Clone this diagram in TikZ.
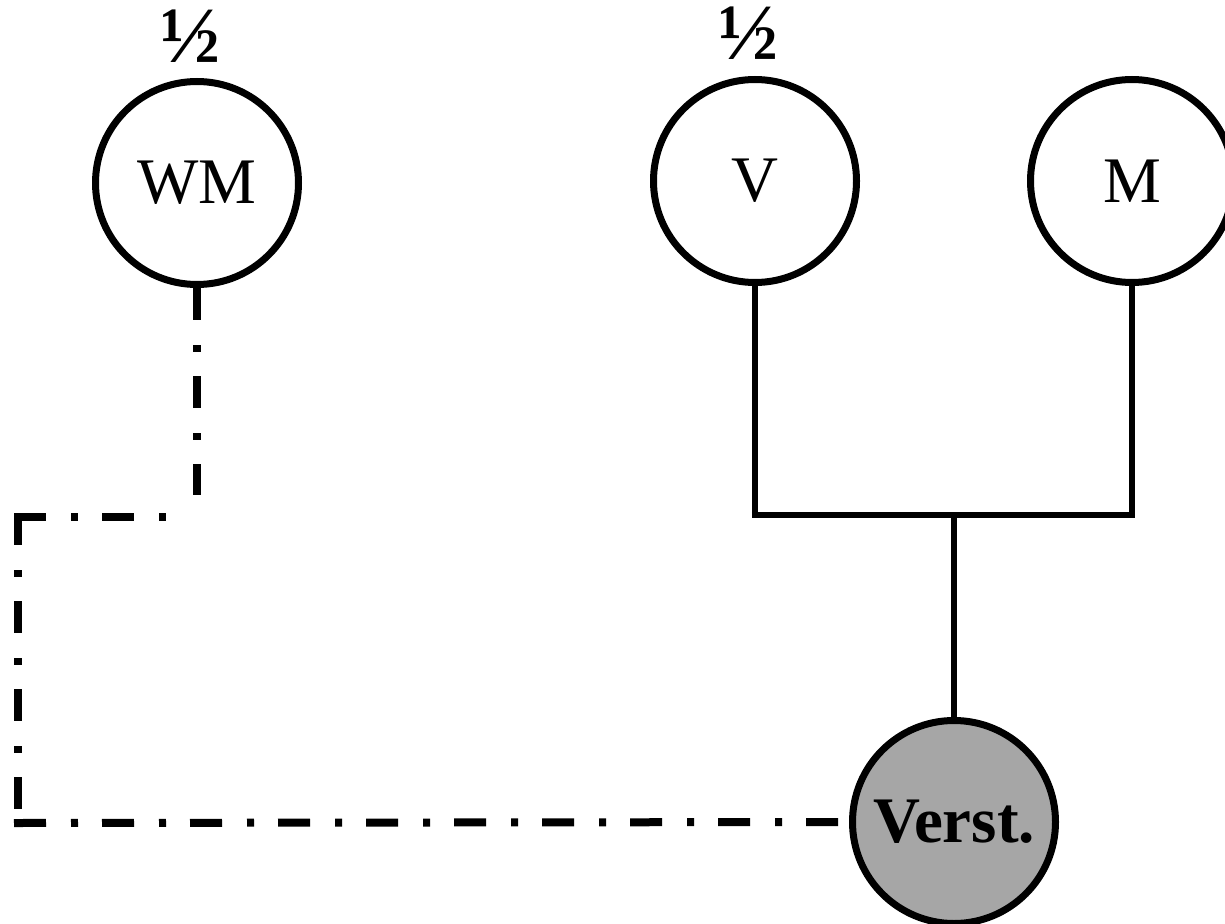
\documentclass[tikz,border=0pt]{standalone}
\usepackage{fontspec}
\setmainfont{Liberation Serif}
\definecolor{verstgray}{RGB}{166,166,166}
\begin{document}
\begin{tikzpicture}[x=1pt,y=-1pt,
  person/.style={circle,draw=black,line width=7pt,minimum size=203pt,inner sep=0pt,fill=white,font=\fontsize{65}{65}\selectfont},
  proband/.style={person,fill=verstgray,font=\fontsize{65}{65}\selectfont\bfseries},
  frac/.style={font=\fontsize{80}{80}\selectfont\bfseries,inner sep=0pt},
  kin/.style={line width=6.5pt},
  foster/.style={line width=8pt,dash pattern=on 32pt off 25pt on 7pt off 24pt}
]
\useasboundingbox (0,0) rectangle (1225,923);
\node[person] (WM) at (197,183) {WM};
\node[person] (V) at (755,181) {V};
\node[person] (M) at (1132,181) {M};
\node[proband] (P) at (954,822) {Verst.};
\node[frac] (fWM) at (190,36) {½};
\node[frac] (fV) at (748,33) {½};
% parent connections
\coordinate (bar) at (954,515);
\draw[kin] (V.south) -- (V.south |- bar);
\draw[kin] (M.south) -- (M.south |- bar);
\draw[kin] ([xshift=-3.25pt]V.south |- bar) -- ([xshift=3.25pt]M.south |- bar);
\draw[kin] (bar) -- (P.north);
% dash-dot link
\coordinate (w1) at (197,495);
\coordinate (h1) at (14,517);
\coordinate (h2) at (166,517);
\coordinate (l1) at (18,513);
\coordinate (l2) at (18,812);
\coordinate (b1) at (14,823);
\draw[foster] (WM.south) -- (w1);
\draw[foster] (h1) -- (h2);
\draw[foster] (l1) -- (l2);
\draw[foster] (b1) -- (P.west);
\end{tikzpicture}
\end{document}
